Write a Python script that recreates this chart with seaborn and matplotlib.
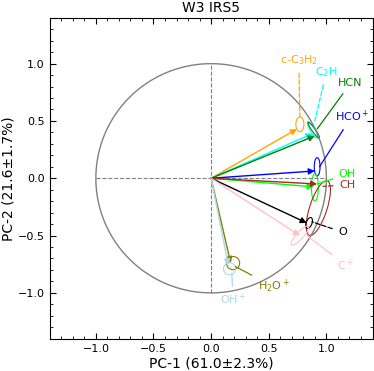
import numpy as np
import pandas as pd
import matplotlib
matplotlib.use('Agg')
import matplotlib.pyplot as plt
import seaborn as sns
from matplotlib.patches import Ellipse

# loadings (arrow tips)
species = ['c-C$_3$H$_2$', 'C$_2$H', 'HCN', 'HCO$^+$', 'OH', 'CH', 'O', 'C$^+$', 'H$_2$O$^+$', 'OH$^+$']
pc1 = [0.745, 0.88, 0.90, 0.90, 0.89, 0.92, 0.83, 0.77, 0.17, 0.15]
pc2 = [0.43, 0.39, 0.37, 0.064, -0.075, -0.05, -0.39, -0.50, -0.74, -0.76]
colors = ['orange', 'cyan', 'green', 'blue', 'lime', 'brown', 'black', 'pink', 'olive', 'lightblue']

# uncertainty ellipses: centre, width, height, angle
ell_x = [0.77, 0.88, 0.89, 0.92, 0.90, 0.93, 0.85, 0.77, 0.19, 0.16]
ell_y = [0.47, 0.42, 0.42, 0.10, -0.08, -0.26, -0.39, -0.50, -0.74, -0.79]
ell_w = [0.07, 0.04, 0.03, 0.05, 0.06, 0.15, 0.05, 0.06, 0.115, 0.105]
ell_h = [0.13, 0.16, 0.17, 0.16, 0.24, 0.50, 0.10, 0.22, 0.115, 0.105]
ell_a = [0, 30, 35, 0, 0, -18, -20, -42, 0, 0]

# label positions, leader ends and leader line styles
lab_x = [0.76, 1.00, 1.21, 1.22, 1.18, 1.18, 1.14, 1.17, 0.54, 0.19]
lab_y = [1.03, 0.93, 0.83, 0.54, 0.035, -0.06, -0.47, -0.76, -0.945, -1.06]
end_x = [0.77, 0.90, 0.92, 0.94, 0.92, 0.97, 0.875, 0.83, 0.21, 0.18]
end_y = [0.54, 0.50, 0.43, 0.10, -0.05, -0.07, -0.38, -0.50, -0.77, -0.83]
lead = ['--', '--', '-', '-', '-', '--', '--', '-', '-', '-']

df = pd.DataFrame({'species': species, 'pc1': pc1, 'pc2': pc2})

sns.set_style('ticks')
plt.rcParams['font.family'] = ['DejaVu Sans']
plt.rcParams['text.color'] = 'black'
plt.rcParams['axes.labelcolor'] = 'black'
plt.rcParams['axes.edgecolor'] = 'black'
plt.rcParams['xtick.color'] = 'black'
plt.rcParams['ytick.color'] = 'black'

fig = plt.figure(figsize=(3.74, 3.71), dpi=100)
ax = fig.add_axes([0.133, 0.087, 0.863, 0.865])

# unit circle
t = np.linspace(0, 2 * np.pi, 400)
circ = pd.DataFrame({'x': np.cos(t), 'y': np.sin(t)})
sns.lineplot(data=circ, x='x', y='y', sort=False, estimator=None, color='gray', lw=1, ax=ax)
ax.plot([-1, 1], [0, 0], color='gray', ls='--', lw=0.8)
ax.plot([0, 0], [-1, 1], color='gray', ls='--', lw=0.8)

for i, row in df.iterrows():
    c = colors[i]
    ax.annotate('', xy=(row.pc1, row.pc2), xytext=(0, 0),
                arrowprops=dict(arrowstyle='-|>', color=c, lw=1, mutation_scale=9,
                                shrinkA=0, shrinkB=0))
    ax.add_patch(Ellipse((ell_x[i], ell_y[i]), ell_w[i], ell_h[i], angle=ell_a[i],
                         fill=False, edgecolor=c, lw=0.8))
    ax.annotate(row.species, xy=(end_x[i], end_y[i]), xytext=(lab_x[i], lab_y[i]),
                ha='center', va='center', color=c, fontsize=8,
                arrowprops=dict(arrowstyle='-', color=c, lw=0.9, ls=lead[i],
                                shrinkA=2, shrinkB=0))

ax.set_xlim(-1.4, 1.4)
ax.set_ylim(-1.4, 1.4)
ax.set_xticks([-1.0, -0.5, 0.0, 0.5, 1.0])
ax.set_yticks([-1.0, -0.5, 0.0, 0.5, 1.0])
ax.minorticks_on()
ax.tick_params(which='both', direction='in', top=True, right=True, labelsize=8)
ax.tick_params(which='major', length=4)
ax.tick_params(which='minor', length=2)
ax.set_xlabel('PC-1 (61.0±2.3%)', fontsize=10, labelpad=2)
ax.set_ylabel('PC-2 (21.6±1.7%)', fontsize=10, labelpad=2)
ax.set_title('W3 IRS5', fontsize=10, pad=4)

fig.savefig('out.png', dpi=100)
